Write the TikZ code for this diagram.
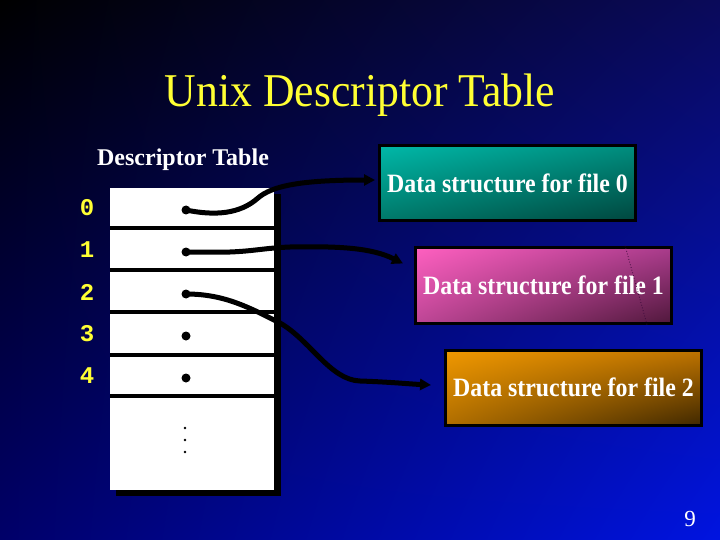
\documentclass[tikz,border=0pt]{standalone}
\usepackage{fontspec}
\setmainfont{Liberation Serif}
\newfontfamily\monob{Liberation Mono}
\usetikzlibrary{arrows.meta,shadings}
\definecolor{ttl}{RGB}{255,255,51}
\definecolor{bgtr}{RGB}{10,10,90}
\definecolor{bgbl}{RGB}{0,0,105}
\definecolor{bgbr}{RGB}{0,20,225}
\definecolor{tUL}{RGB}{0,184,168}
\definecolor{tUR}{RGB}{0,140,125}
\definecolor{tLL}{RGB}{0,120,105}
\definecolor{tLR}{RGB}{0,70,62}
\definecolor{pUL}{RGB}{255,96,192}
\definecolor{pUR}{RGB}{170,60,140}
\definecolor{pLL}{RGB}{190,70,150}
\definecolor{pLR}{RGB}{80,24,60}
\definecolor{oUL}{RGB}{240,152,0}
\definecolor{oUR}{RGB}{190,115,0}
\definecolor{oLL}{RGB}{176,110,0}
\definecolor{oLR}{RGB}{64,40,0}
\definecolor{dotc}{RGB}{60,10,60}
\newcommand{\boxtxt}[1]{\scalebox{0.9}[1]{#1}}
\begin{document}
\begin{tikzpicture}[x=1pt,y=-1pt,
  conn/.style={line width=5pt, line cap=round, -{Triangle[length=11pt,width=11pt]}},
  dotn/.style={circle, fill=black, inner sep=0pt, minimum size=9pt},
  sdot/.style={circle, fill=black, inner sep=0pt, minimum size=2.6pt},
  lbl/.style={text=ttl, font=\monob\bfseries\fontsize{24}{26}\selectfont},
  dbox/.style={draw=black, line width=3pt, text=white, minimum height=75pt, minimum width=256pt, font=\bfseries\fontsize{26.5}{28}\selectfont},
  sep/.style={line width=4pt}
]
\useasboundingbox (0,0) rectangle (720,540);
\shade[upper left=black, upper right=bgtr, lower left=bgbl, lower right=bgbr] (0,0) rectangle (720,540);
% title
\node[text=ttl, font=\fontsize{47}{50}\selectfont] (title) at (360,95) {\scalebox{0.93}[1]{Unix Descriptor Table}};
\node[text=white, font=\bfseries\fontsize{24}{26}\selectfont] (hdr) at (183,160) {Descriptor Table};
% table
\fill[black] (116,194) rectangle (281,496);
\fill[white] (110,188) rectangle (274,490);
\draw[sep] (110,228) -- (274,228);
\draw[sep] (110,270) -- (274,270);
\draw[sep] (110,312) -- (274,312);
\draw[sep] (110,354.5) -- (274,354.5);
\draw[sep] (110,395.5) -- (274,395.5);
\node[lbl] (n0) at (87,208) {0};
\node[lbl] (n1) at (87,250) {1};
\node[lbl] (n2) at (87,292) {2};
\node[lbl] (n3) at (87,334) {3};
\node[lbl] (n4) at (87,376) {4};
\node[dotn] (d0) at (186,210) {};
\node[dotn] (d1) at (186,252) {};
\node[dotn] (d2) at (186,294) {};
\node[dotn] (d3) at (186,336) {};
\node[dotn] (d4) at (186,378) {};
\node[sdot] (e1) at (185,428) {};
\node[sdot] (e2) at (185,440) {};
\node[sdot] (e3) at (185,452) {};
% boxes
\node[dbox, upper left=tUL, upper right=tUR, lower left=tLL, lower right=tLR] (b0) at (507.5,183.5) {\boxtxt{Data structure for file 0}};
\node[dbox, minimum height=76pt, upper left=pUL, upper right=pUR, lower left=pLL, lower right=pLR] (b1) at (543.5,285) {\boxtxt{Data structure for file 1}};
\draw[dotted, line width=0.8pt, dotc] ([xshift=211pt]b1.north west) -- ([xshift=233pt]b1.south west);
\node[dbox, upper left=oUL, upper right=oUR, lower left=oLL, lower right=oLR] (b2) at (573.5,387.5) {\boxtxt{Data structure for file 2}};
% connectors
\draw[conn] (d0.center) .. controls (215,216) and (240,214) .. (258,198) .. controls (272,186) and (300,180) .. ([xshift=-3pt,yshift=3.5pt]b0.west);
\draw[conn] (d1.center) -- (230,252) .. controls (255,251) and (265,248) .. (290,247) .. controls (340,246) and (372,248) .. ([xshift=-11pt,yshift=-18pt]b1.north west);
\draw[conn] (d2.center) .. controls (225,294) and (250,308) .. (280,323) .. controls (310,340) and (330,380) .. (360,381) .. controls (390,382) and (410,384) .. ([xshift=-13pt,yshift=2.5pt]b2.west);
% page number
\node[text=white, font=\fontsize{23}{25}\selectfont] (pg) at (690,519) {9};
\end{tikzpicture}
\end{document}
